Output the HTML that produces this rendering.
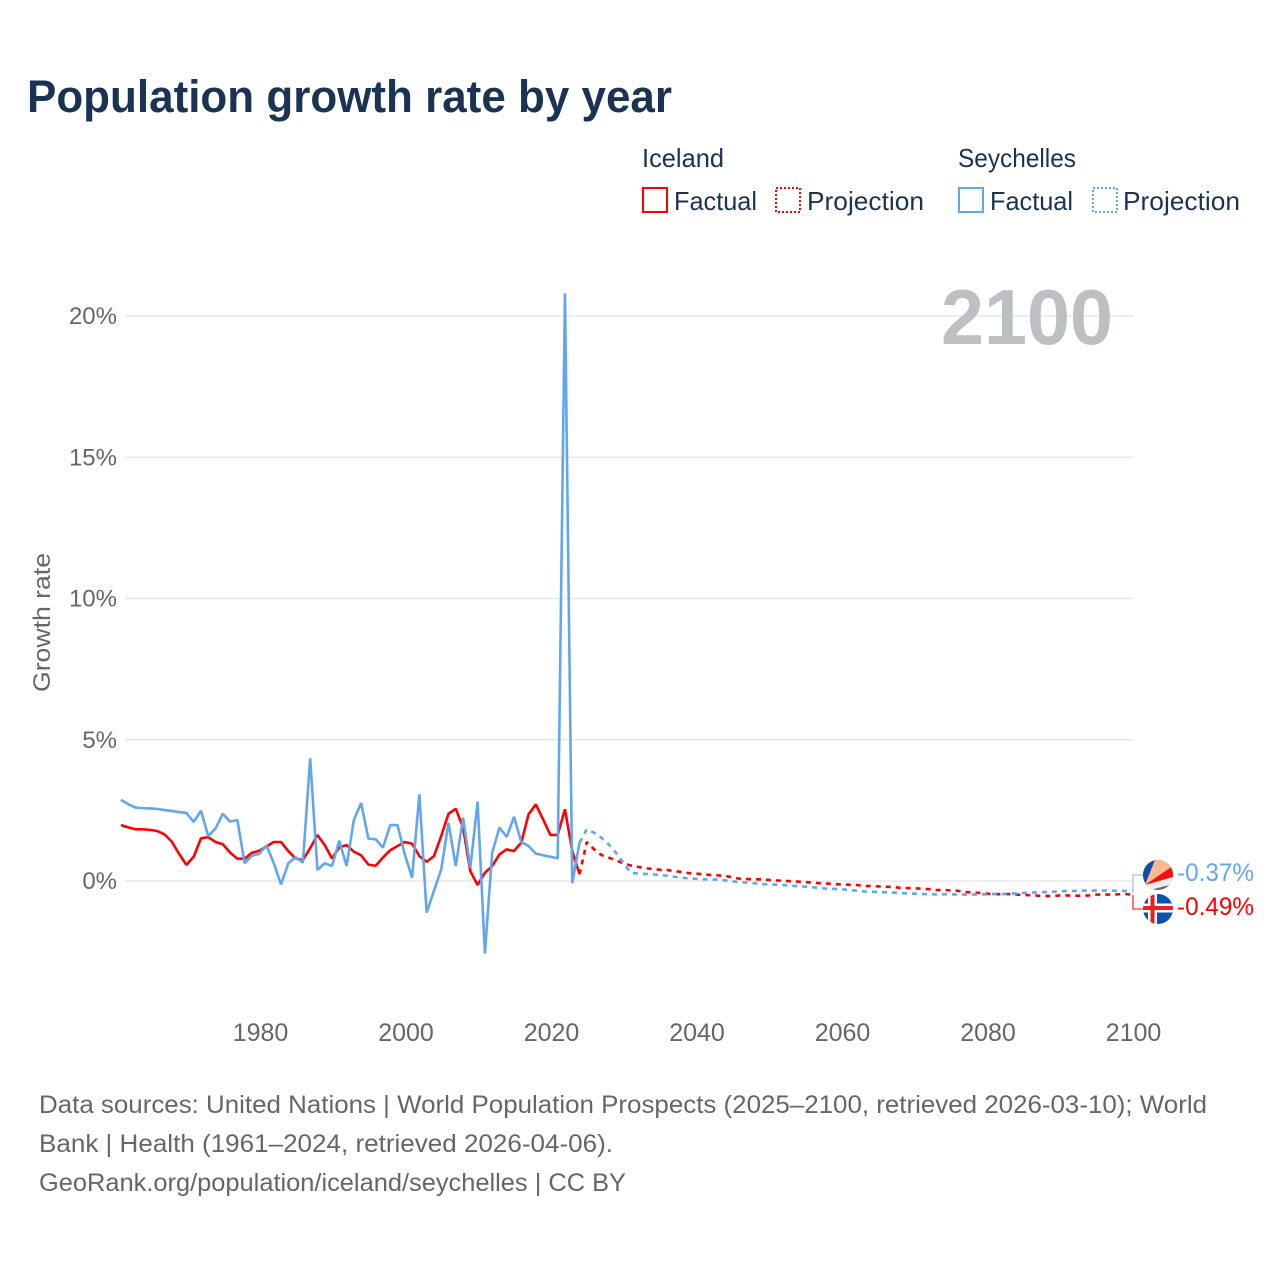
<!DOCTYPE html>
<html lang="en">
<head>
<meta charset="utf-8">
<title>Population growth rate by year</title>
<style>
html,body{margin:0;padding:0;background:#fff;}
svg{display:block;font-family:"Liberation Sans",sans-serif;}
</style>
</head>
<body>
<svg id="chart" width="1280" height="1280" viewBox="0 0 1280 1280" xmlns="http://www.w3.org/2000/svg">
  <rect x="0" y="0" width="1280" height="1280" fill="#fff"/>
  <text x="27" y="112" font-size="45" font-weight="700" fill="#1b3353" textLength="645" lengthAdjust="spacingAndGlyphs">Population growth rate by year</text>

  <g font-size="26" fill="#1b3353">
    <text x="642" y="167" textLength="82" lengthAdjust="spacingAndGlyphs">Iceland</text>
    <rect x="643" y="188" width="24" height="24" fill="none" stroke="#ff0000" stroke-width="2"/>
    <text x="674" y="210" textLength="83" lengthAdjust="spacingAndGlyphs">Factual</text>
    <rect x="776" y="188" width="24" height="24" fill="none" stroke="#ff0000" stroke-width="2" stroke-dasharray="2 2"/>
    <text x="807" y="210" textLength="117" lengthAdjust="spacingAndGlyphs">Projection</text>
    <text x="958" y="167" textLength="118" lengthAdjust="spacingAndGlyphs">Seychelles</text>
    <rect x="959" y="188" width="24" height="24" fill="none" stroke="#62a6ee" stroke-width="2"/>
    <text x="990" y="210" textLength="83" lengthAdjust="spacingAndGlyphs">Factual</text>
    <rect x="1093" y="188" width="24" height="24" fill="none" stroke="#62a6ee" stroke-width="2" stroke-dasharray="2 2"/>
    <text x="1123" y="210" textLength="117" lengthAdjust="spacingAndGlyphs">Projection</text>
  </g>

  <text transform="translate(50,692) rotate(-90)" font-size="24" fill="#666" textLength="139" lengthAdjust="spacingAndGlyphs">Growth rate</text>
  <g id="grid"></g>
  <g id="yticks" font-size="24" fill="#666" text-anchor="end"></g>
  <g id="xticks" font-size="25" fill="#666" text-anchor="middle"></g>

  <text x="1113" y="344" font-size="78" font-weight="700" fill="#bdbfc2" text-anchor="end" textLength="172" lengthAdjust="spacingAndGlyphs">2100</text>

  <g id="series"></g>

  <path id="conn-sey" fill="none" stroke="#a9cdf5" stroke-width="1.6"/>
  <path id="conn-ice" fill="none" stroke="#ff5555" stroke-width="1.6"/>

  <defs>
    <clipPath id="clip-sey"><circle cx="1158" cy="875" r="15"/></clipPath>
    <clipPath id="clip-ice"><circle cx="1158" cy="909" r="15"/></clipPath>
  </defs>
  <g clip-path="url(#clip-sey)">
    <rect x="1143" y="860" width="30" height="30" fill="#6b6b6b"/>
    <polygon points="1145,885 1143,884 1143,860 1155,860" fill="#0f4fa8"/>
    <polygon points="1145,885 1155,860 1173,860 1173,866" fill="#fcb88e"/>
    <polygon points="1145,885 1173,866 1173,877" fill="#ff0d0d"/>
    <polygon points="1145,885 1173,877 1173,884 1150,890 1143,890" fill="#eeeeee"/>
  </g>
  <g clip-path="url(#clip-ice)">
    <rect x="1143" y="894" width="30" height="30" fill="#0d52b0"/>
    <rect x="1143" y="903.5" width="30" height="9" fill="#fff"/>
    <rect x="1148" y="894" width="9" height="30" fill="#fff"/>
    <rect x="1143" y="906" width="30" height="4" fill="#ee1c25"/>
    <rect x="1150.5" y="894" width="4" height="30" fill="#ee1c25"/>
  </g>
  <text x="1177" y="881" font-size="25" fill="#62a6ee" textLength="77" lengthAdjust="spacingAndGlyphs">-0.37%</text>
  <text x="1177" y="915" font-size="25" fill="#ff0000" textLength="77" lengthAdjust="spacingAndGlyphs">-0.49%</text>

  <g font-size="25" fill="#666">
    <text x="39" y="1113" textLength="1168" lengthAdjust="spacingAndGlyphs">Data sources: United Nations | World Population Prospects (2025–2100, retrieved 2026-03-10); World</text>
    <text x="39" y="1152" textLength="574" lengthAdjust="spacingAndGlyphs">Bank | Health (1961–2024, retrieved 2026-04-06).</text>
    <text x="39" y="1191" textLength="587" lengthAdjust="spacingAndGlyphs">GeoRank.org/population/iceland/seychelles | CC BY</text>
  </g>
</svg>
<script>
const factualStartYear = 1961;
const projectionStartYear = 2024;
const xTickYears = [1980, 2000, 2020, 2040, 2060, 2080, 2100];
const yTickValues = [0, 5, 10, 15, 20];

const icelandFactual = [1.98,1.90,1.83,1.83,1.81,1.77,1.65,1.39,0.96,0.57,0.86,1.51,1.55,1.38,1.30,1.01,0.79,0.79,1.00,1.07,1.22,1.38,1.38,1.06,0.80,0.74,1.16,1.63,1.27,0.80,1.19,1.27,1.04,0.91,0.58,0.54,0.83,1.09,1.24,1.38,1.32,0.88,0.68,0.88,1.59,2.38,2.56,1.89,0.35,-0.14,0.29,0.53,0.94,1.12,1.06,1.36,2.36,2.71,2.18,1.63,1.63,2.54,1.06,0.24];
const icelandProjection = [0.24,1.38,1.12,0.92,0.83,0.73,0.63,0.55,0.50,0.46,0.42,0.40,0.39,0.35,0.32,0.28,0.26,0.24,0.21,0.20,0.18,0.13,0.08,0.07,0.06,0.06,0.04,0.02,0.01,-0.01,-0.02,-0.04,-0.06,-0.08,-0.09,-0.11,-0.12,-0.13,-0.14,-0.17,-0.18,-0.19,-0.20,-0.21,-0.24,-0.25,-0.26,-0.27,-0.29,-0.32,-0.32,-0.33,-0.35,-0.39,-0.41,-0.42,-0.45,-0.46,-0.47,-0.46,-0.48,-0.50,-0.50,-0.52,-0.53,-0.53,-0.51,-0.51,-0.52,-0.52,-0.51,-0.48,-0.48,-0.48,-0.47,-0.46,-0.49];
const seychellesFactual = [2.87,2.72,2.60,2.58,2.57,2.55,2.51,2.48,2.44,2.41,2.09,2.49,1.59,1.86,2.38,2.10,2.16,0.63,0.90,0.96,1.26,0.63,-0.12,0.63,0.84,0.65,4.34,0.39,0.63,0.53,1.43,0.53,2.16,2.76,1.50,1.48,1.18,1.98,1.98,0.94,0.12,3.07,-1.12,-0.35,0.41,2.06,0.53,2.24,0.47,2.81,-2.57,1.00,1.89,1.56,2.27,1.38,1.24,0.97,0.91,0.86,0.80,20.8,-0.08,1.36];
const seychellesProjection = [1.36,1.83,1.71,1.53,1.30,1.00,0.65,0.30,0.26,0.25,0.24,0.21,0.19,0.15,0.12,0.09,0.08,0.06,0.05,0.05,0.02,-0.01,-0.04,-0.06,-0.08,-0.11,-0.12,-0.13,-0.14,-0.17,-0.18,-0.20,-0.22,-0.25,-0.27,-0.28,-0.29,-0.32,-0.34,-0.37,-0.38,-0.39,-0.40,-0.41,-0.42,-0.44,-0.45,-0.46,-0.47,-0.47,-0.47,-0.47,-0.48,-0.48,-0.48,-0.47,-0.47,-0.46,-0.46,-0.45,-0.44,-0.42,-0.41,-0.40,-0.39,-0.38,-0.37,-0.35,-0.35,-0.34,-0.34,-0.34,-0.34,-0.34,-0.35,-0.35,-0.37];

const SVG_NS = 'http://www.w3.org/2000/svg';
function xScale(year) { return 1133.5 + (year - 2100) * 7.275; }
function xData(year) { return 1132.8 + (year - 2100) * 7.28; }
function yScale(value) { return 881 - value * 28.25; }
function toPoints(values, startYear) {
  return values.map(function (v, i) { return xData(startYear + i).toFixed(2) + ',' + yScale(v).toFixed(2); }).join(' ');
}

const grid = document.getElementById('grid');
const yticks = document.getElementById('yticks');
const xticks = document.getElementById('xticks');
const seriesGroup = document.getElementById('series');

yTickValues.forEach(function (v) {
  const line = document.createElementNS(SVG_NS, 'line');
  line.setAttribute('x1', 125);
  line.setAttribute('x2', 1133.5);
  line.setAttribute('y1', yScale(v));
  line.setAttribute('y2', yScale(v));
  line.setAttribute('stroke', '#e8e8e8');
  line.setAttribute('stroke-width', '1.5');
  
  
  grid.appendChild(line);

  const label = document.createElementNS(SVG_NS, 'text');
  label.setAttribute('x', 117);
  label.setAttribute('y', yScale(v) + 8);
  label.textContent = v + '%';
  
  
  yticks.appendChild(label);
});

xTickYears.forEach(function (year) {
  const label = document.createElementNS(SVG_NS, 'text');
  label.setAttribute('x', xScale(year));
  label.setAttribute('y', 1041);
  label.textContent = String(year);
  
  
  xticks.appendChild(label);
});

function drawLine(values, startYear, color, dashed, name) {
  const line = document.createElementNS(SVG_NS, 'polyline');
  line.setAttribute('points', toPoints(values, startYear));
  line.setAttribute('fill', 'none');
  line.setAttribute('stroke', color);
  line.setAttribute('stroke-width', '2.6');
  line.setAttribute('stroke-linejoin', 'bevel');
  if (dashed) { line.setAttribute('stroke-dasharray', '5 5'); }
  
  
  seriesGroup.appendChild(line);
}

drawLine(icelandFactual, factualStartYear, '#ff0000', false, 'iceland-factual-line');
drawLine(icelandProjection, projectionStartYear, '#ff0000', true, 'iceland-projection-line');
drawLine(seychellesFactual, factualStartYear, '#62a6ee', false, 'seychelles-factual-line');
drawLine(seychellesProjection, projectionStartYear, '#62a6ee', true, 'seychelles-projection-line');

const endSey = yScale(seychellesProjection[seychellesProjection.length - 1]);
const endIce = yScale(icelandProjection[icelandProjection.length - 1]);
document.getElementById('conn-sey').setAttribute('d', 'M1133 ' + endSey + ' V875 H1143');
document.getElementById('conn-ice').setAttribute('d', 'M1133 ' + endIce + ' V909 H1143');
</script>
</body>
</html>
